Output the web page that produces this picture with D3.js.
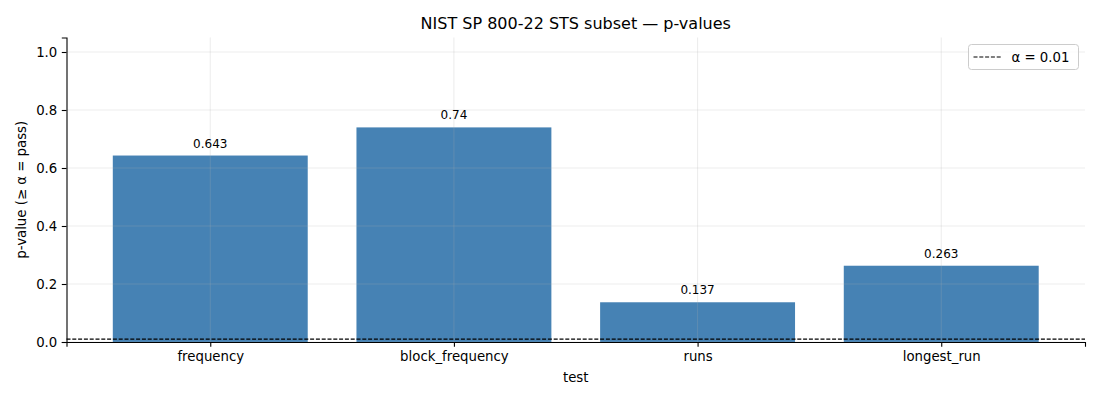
<!DOCTYPE html>
<html>
<head>
<meta charset="utf-8">
<script src="https://cdn.jsdelivr.net/npm/d3@7"></script>
<style>
  body { margin: 0; background: #fff; }
  svg { font-family: "DejaVu Sans", sans-serif; }
</style>
</head>
<body>
<svg id="chart" width="1100" height="400"></svg>
<script>
const tests = ['frequency', 'block_frequency', 'runs', 'longest_run']
const pValues = [0.643, 0.74, 0.137, 0.263]
const pLabels = ['0.643', '0.74', '0.137', '0.263']
const yTicks = [0.0, 0.2, 0.4, 0.6, 0.8, 1.0]
const alpha = 0.01

const width = 1100, height = 400
const margin = {top: 37.5, right: 15, bottom: 58, left: 66.5}
const innerW = width - margin.left - margin.right
const innerH = height - margin.top - margin.bottom

const svg = d3.select('#chart')
const g = svg.append('g').attr('transform', `translate(${margin.left},${margin.top})`)

// matplotlib-like: bar centers at 0..n-1, width 0.8, 5% margins
const n = tests.length
const pad = (n - 1 + 0.8) * 0.05
const x = d3.scaleLinear().domain([-0.4 - pad, n - 1 + 0.4 + pad]).range([0, innerW])
const y = d3.scaleLinear().domain([0, 1.05]).range([innerH, 0])

// bars
g.append('g')
  .selectAll('rect')
  .data(pValues)
  .join('rect')
  .attr('x', (d, i) => x(i - 0.4))
  .attr('width', x(0.8) - x(0))
  .attr('y', d => y(d))
  .attr('height', d => y(0) - y(d))
  .attr('fill', '#4682b4')

// grid on top of bars
const grid = g.append('g').attr('stroke', '#b0b0b0').attr('stroke-opacity', 0.3).attr('stroke-width', 0.8)
grid.selectAll('line.h')
  .data(yTicks)
  .join('line')
  .attr('class', 'h')
  .attr('x1', 0).attr('x2', innerW)
  .attr('y1', d => y(d)).attr('y2', d => y(d))
grid.selectAll('line.v')
  .data(tests)
  .join('line')
  .attr('class', 'v')
  .attr('x1', (d, i) => x(i)).attr('x2', (d, i) => x(i))
  .attr('y1', 0).attr('y2', innerH)

// alpha line
g.append('line')
  .attr('x1', 0).attr('x2', innerW)
  .attr('y1', y(alpha)).attr('y2', y(alpha))
  .attr('stroke', '#000').attr('stroke-width', 1.1)
  .attr('stroke-dasharray', '4,1.8')

// value labels
g.append('g')
  .selectAll('text')
  .data(pValues)
  .join('text')
  .attr('x', (d, i) => x(i))
  .attr('y', d => y(d) - 8)
  .attr('text-anchor', 'middle')
  .attr('font-size', 12)
  .attr('fill', '#000')
  .text((d, i) => pLabels[i])

// axes
const xAxis = d3.axisBottom(x).tickValues(d3.range(n)).tickFormat(i => tests[i]).tickSizeOuter(0).tickSize(4.7).tickPadding(4.5)
const yAxis = d3.axisLeft(y).tickValues(yTicks).tickFormat(d3.format('.1f')).tickSizeOuter(0).tickSize(4.7).tickPadding(4.5)

const gx = g.append('g').attr('transform', `translate(0,${innerH})`).call(xAxis)
const gy = g.append('g').call(yAxis)
for (const ax of [gx, gy]) {
  ax.attr('font-family', '"DejaVu Sans", sans-serif').attr('font-size', 13.3)
  ax.select('.domain').attr('stroke', '#000').attr('stroke-width', 1.1)
  ax.selectAll('.tick line').attr('stroke', '#000').attr('stroke-width', 1.1)
  ax.selectAll('.tick text').attr('fill', '#000')
}

// axis titles
svg.append('text')
  .attr('x', margin.left + innerW / 2).attr('y', 382)
  .attr('text-anchor', 'middle').attr('font-size', 13.3)
  .text('test')
svg.append('text')
  .attr('transform', `translate(26,${margin.top + innerH / 2}) rotate(-90)`)
  .attr('text-anchor', 'middle').attr('font-size', 13.3)
  .text('p-value (≥ α = pass)')

// title
svg.append('text')
  .attr('x', margin.left + innerW / 2).attr('y', 29)
  .attr('text-anchor', 'middle').attr('font-size', 16)
  .text('NIST SP 800-22 STS subset — p-values')

// legend
const lg = svg.append('g').attr('transform', `translate(968.5,44.5)`)
lg.append('rect')
  .attr('width', 110).attr('height', 25).attr('rx', 3)
  .attr('fill', '#fff').attr('fill-opacity', 0.8)
  .attr('stroke', '#cccccc').attr('stroke-width', 1)
lg.append('line')
  .attr('x1', 5).attr('x2', 33).attr('y1', 12.5).attr('y2', 12.5)
  .attr('stroke', '#000').attr('stroke-width', 1.1).attr('stroke-dasharray', '4,1.8')
lg.append('text')
  .attr('x', 43).attr('y', 17.3).attr('font-size', 13.3)
  .text('α = 0.01')
</script>
</body>
</html>
